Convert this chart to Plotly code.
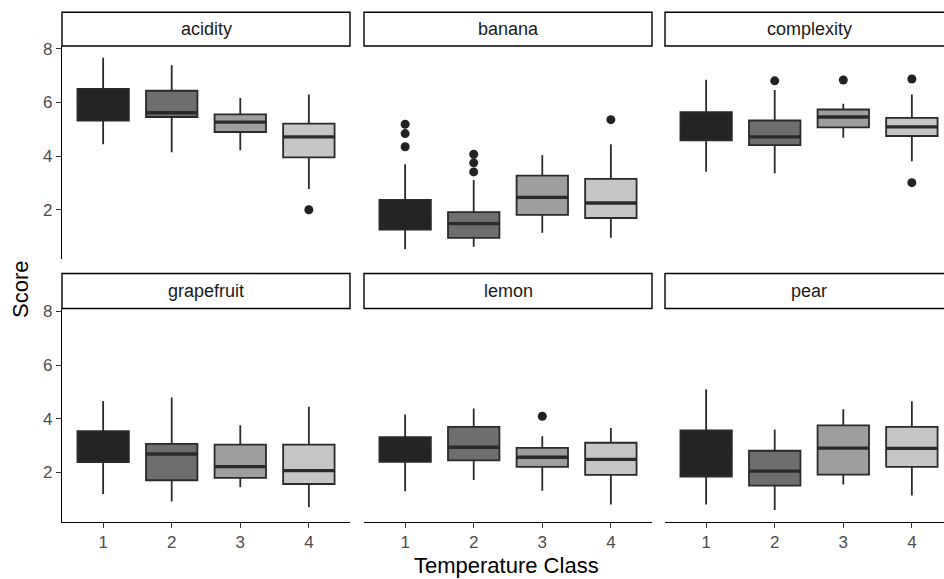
import plotly.graph_objects as go

# ---------------- data ----------------
flavors = ["acidity", "banana", "complexity", "grapefruit", "lemon", "pear"]
classes = [1, 2, 3, 4]
tick_labels = ["1", "2", "3", "4"]
y_ticks = [2, 4, 6, 8]

lower_whisker = [
    [4.44, 4.14, 4.22, 2.77],
    [0.52, 0.62, 1.14, 0.95],
    [3.42, 3.36, 4.69, 3.81],
    [1.19, 0.91, 1.44, 0.69],
    [1.29, 1.71, 1.31, 0.79],
    [0.79, 0.59, 1.54, 1.13],
]
q1 = [
    [5.33, 5.46, 4.90, 3.95],
    [1.26, 0.95, 1.81, 1.69],
    [4.59, 4.41, 5.07, 4.75],
    [2.38, 1.70, 1.79, 1.56],
    [2.39, 2.44, 2.20, 1.90],
    [1.84, 1.50, 1.91, 2.20],
]
median = [
    [5.95, 5.62, 5.27, 4.72],
    [1.70, 1.48, 2.46, 2.25],
    [5.00, 4.72, 5.46, 5.09],
    [2.90, 2.68, 2.21, 2.06],
    [2.80, 2.93, 2.56, 2.48],
    [2.70, 2.04, 2.90, 2.89],
]
q3 = [
    [6.51, 6.44, 5.56, 5.21],
    [2.37, 1.91, 3.27, 3.15],
    [5.64, 5.33, 5.74, 5.43],
    [3.53, 3.06, 3.03, 3.03],
    [3.31, 3.69, 2.91, 3.10],
    [3.56, 2.80, 3.75, 3.69],
]
upper_whisker = [
    [7.67, 7.39, 6.17, 6.30],
    [3.70, 3.11, 4.04, 4.44],
    [6.85, 6.47, 5.95, 6.30],
    [4.66, 4.79, 3.75, 4.44],
    [4.15, 4.38, 3.34, 3.65],
    [5.10, 3.59, 4.35, 4.65],
]
outlier_flavor = ["acidity", "banana", "banana", "banana", "banana", "banana", "banana", "banana",
                  "complexity", "complexity", "complexity", "complexity", "lemon"]
outlier_class = [4, 1, 1, 1, 2, 2, 2, 4, 2, 3, 4, 4, 3]
outlier_value = [2.00, 5.19, 4.84, 4.35, 4.07, 3.75, 3.41, 5.36, 6.81, 6.84, 6.88, 3.01, 4.09]

fill_colors = ["#242424", "#6e6e6e", "#9e9e9e", "#c6c6c6"]
line_color = "#2a2a2a"

# ---------------- layout geometry (pixels) ----------------
W, H = 944, 579
col_px = [(62, 350), (364, 652), (665, 944)]
panel_rows_px = [(46, 259), (308.5, 521.5)]
strip_rows_px = [(12.3, 46), (273.5, 308.5)]
y_range = [0.16, 8.11]
unit_px = (350 - 62) / 4.2

def px_x(p):
    return p / W

def px_y(p):
    return 1 - p / H

FONT = "Liberation Sans, Arial, sans-serif"
fig = go.Figure()
layout = dict(
    width=W, height=H,
    margin=dict(l=0, r=0, t=0, b=0, autoexpand=False),
    paper_bgcolor="white", plot_bgcolor="white",
    showlegend=False,
    font=dict(family=FONT),
    shapes=[], annotations=[],
)

for i, fl in enumerate(flavors):
    row, col = divmod(i, 3)
    xn = "x" if i == 0 else f"x{i+1}"
    yn = "y" if i == 0 else f"y{i+1}"
    xk = "xaxis" if i == 0 else f"xaxis{i+1}"
    yk = "yaxis" if i == 0 else f"yaxis{i+1}"
    x0p, x1p = col_px[col]
    r0p, r1p = panel_rows_px[row]
    xmax = 0.4 + (x1p - x0p) / unit_px
    bottom = row == 1
    left = col == 0
    layout[xk] = dict(
        domain=[px_x(x0p), px_x(x1p)], range=[0.4, xmax], anchor=yn,
        showgrid=False, zeroline=False,
        showline=bottom, linecolor="black", linewidth=1.4,
        ticks="outside" if bottom else "", ticklen=5, tickwidth=1.3, tickcolor="#333333",
        showticklabels=bottom, tickvals=classes, ticktext=tick_labels,
        tickfont=dict(size=17, color="#4d4d4d", family=FONT),
    )
    layout[yk] = dict(
        domain=[px_y(r1p), px_y(r0p)], range=y_range, anchor=xn,
        showgrid=False, zeroline=False,
        showline=left, linecolor="black", linewidth=1.4,
        ticks="outside" if left else "", ticklen=5, tickwidth=1.3, tickcolor="#333333",
        showticklabels=left, tickvals=y_ticks,
        tickfont=dict(size=17, color="#4d4d4d", family=FONT),
    )
    # strip
    s0, s1 = strip_rows_px[row]
    layout["shapes"].append(dict(
        type="rect", xref="paper", yref="paper",
        x0=px_x(x0p), x1=px_x(x0p + 4.2 * unit_px), y0=px_y(s1), y1=px_y(s0),
        line=dict(color="black", width=1.4), fillcolor="white", layer="above",
    ))
    layout["annotations"].append(dict(
        xref="paper", yref="paper", x=px_x(x0p + 2.1 * unit_px), y=px_y((s0 + s1) / 2),
        text=fl, showarrow=False, xanchor="center", yanchor="middle",
        font=dict(size=18, color="#1a1a1a", family=FONT),
    ))
    # boxes
    for j, c in enumerate(classes):
        fig.add_trace(go.Box(
            x=[c], q1=[q1[i][j]], median=[median[i][j]], q3=[q3[i][j]],
            lowerfence=[lower_whisker[i][j]], upperfence=[upper_whisker[i][j]],
            width=0.75, whiskerwidth=0, boxpoints=False,
            fillcolor=fill_colors[j], line=dict(color=line_color, width=1.8),
            xaxis=xn, yaxis=yn, hoverinfo="skip",
        ))
        fig.add_trace(go.Scatter(
            x=[c - 0.375, c + 0.375], y=[median[i][j], median[i][j]],
            mode="lines", line=dict(color=fill_colors[0] if j == 0 else line_color, width=3.4),
            xaxis=xn, yaxis=yn, hoverinfo="skip",
        ))
    ox = [c for f, c in zip(outlier_flavor, outlier_class) if f == fl]
    oy = [v for f, v in zip(outlier_flavor, outlier_value) if f == fl]
    if ox:
        fig.add_trace(go.Scatter(
            x=ox, y=oy, mode="markers",
            marker=dict(color="#222222", size=9),
            xaxis=xn, yaxis=yn, hoverinfo="skip",
        ))

layout["annotations"].append(dict(
    xref="paper", yref="paper", x=px_x(20), y=px_y(290), text="Score",
    textangle=-90, showarrow=False, xanchor="center", yanchor="middle",
    font=dict(size=22, color="black", family=FONT),
))
layout["annotations"].append(dict(
    xref="paper", yref="paper", x=px_x(507), y=px_y(565), text="Temperature Class",
    showarrow=False, xanchor="center", yanchor="middle",
    font=dict(size=22, color="black", family=FONT),
))

fig.update_layout(**layout)
fig.write_html(
    "out.html",
    config={"displayModeBar": False},
    post_script="document.documentElement.style.margin='0';document.body.style.margin='0';document.body.style.padding='0';document.documentElement.style.overflow='hidden';",
)
